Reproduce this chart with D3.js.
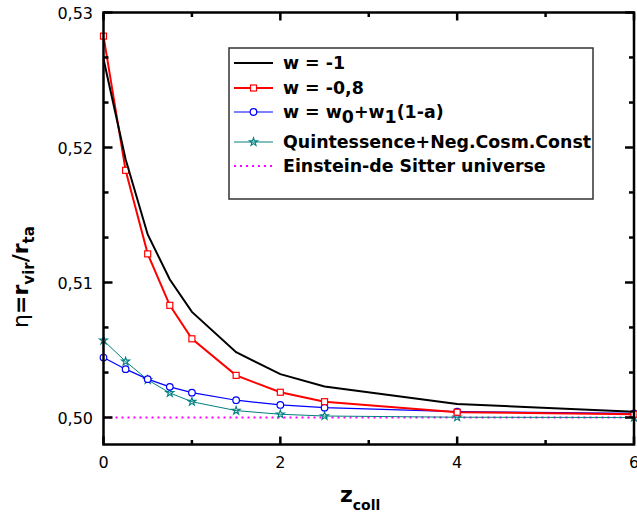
<!DOCTYPE html>
<html><head><meta charset="utf-8">
<script src="https://cdn.jsdelivr.net/npm/d3@7"></script>
<style>body{margin:0;background:#fff}svg{display:block}text{font-family:"DejaVu Sans",Verdana,sans-serif}</style>
</head><body>
<svg id="c" width="637" height="515"></svg>
<script>
const zColl = [0, 0.25, 0.5, 0.75, 1, 1.5, 2, 2.5, 4, 6];
const etaLambda = [0.52656, 0.51913, 0.51356, 0.51022, 0.50782, 0.50484, 0.50321, 0.50229, 0.50100, 0.50043];
const etaW08 = [0.52825, 0.51831, 0.51212, 0.50831, 0.50583, 0.50312, 0.50187, 0.50117, 0.50039, 0.50024];
const etaW0W1 = [0.50444, 0.50358, 0.50284, 0.50227, 0.50184, 0.50128, 0.50093, 0.50073, 0.50043, 0.50031];
const etaQuint = [0.50571, 0.50415, 0.50279, 0.50182, 0.50117, 0.50051, 0.50024, 0.50011, 0.50002, 0.50000];
const edsX = [0, 6];
const edsY = [0.5, 0.5];
const xTicks = [0, 2, 4, 6];
const xMinor = [1, 3, 5];
const yTicks = [0.50, 0.51, 0.52, 0.53];
const yTickLabels = ["0,50", "0,51", "0,52", "0,53"];
const yMinor = [0.50333, 0.50667, 0.51333, 0.51667, 0.52333, 0.52667];
const legendLabels = ["w = -1", "w = -0,8", "w = w0+w1(1-a)", "Quintessence+Neg.Cosm.Const", "Einstein-de Sitter universe"];

const svg = d3.select("#c");
const L = 103.5, R = 634, T = 12.5, B = 444.5;
const x = d3.scaleLinear().domain([0, 6]).range([L, R]);
const y = d3.scaleLinear().domain([0.498, 0.53]).range([B, T]);

const series = [
  {v: etaLambda, color: "#000", w: 2, marker: null},
  {v: etaW08, color: "#ff0000", w: 2, marker: "square"},
  {v: etaW0W1, color: "#0000ff", w: 1.2, marker: "circle"},
  {v: etaQuint, color: "#008080", w: 1, marker: "star"}
];

// EdS dotted
svg.append("line").attr("x1", x(edsX[0])).attr("x2", x(edsX[1])).attr("y1", y(edsY[0])).attr("y2", y(edsY[1]))
  .attr("stroke", "#ff00ff").attr("stroke-width", 2).attr("stroke-dasharray", "2,4");

const line = d3.line().x((d, i) => x(zColl[i])).y(d => y(d));
const starPath = d3.symbol().type(d3.symbolStar).size(20)();
function drawMarker(g, type, cx, cy, color) {
  if (type === "square") g.append("rect").attr("x", cx - 3).attr("y", cy - 3).attr("width", 6).attr("height", 6).attr("fill", "#fff").attr("stroke", color).attr("stroke-width", 1.2);
  else if (type === "circle") g.append("circle").attr("cx", cx).attr("cy", cy).attr("r", 3.3).attr("fill", "#fff").attr("stroke", color).attr("stroke-width", 1.2);
  else if (type === "star") g.append("path").attr("d", starPath).attr("transform", `translate(${cx},${cy})`).attr("fill", "none").attr("stroke", color).attr("stroke-width", 1.1);
}
series.slice().reverse().forEach(s => {
  svg.append("path").datum(s.v).attr("d", line).attr("fill", "none").attr("stroke", s.color).attr("stroke-width", s.w);
  if (s.marker) s.v.forEach((d, i) => drawMarker(svg, s.marker, x(zColl[i]), y(d), s.color));
});

// frame
svg.append("rect").attr("x", L).attr("y", T).attr("width", R - L).attr("height", B - T).attr("fill", "none").attr("stroke", "#000").attr("stroke-width", 2.5);

// ticks
const ax = svg.append("g").attr("stroke", "#000").attr("stroke-width", 2.5);
xTicks.forEach(t => { ax.append("line").attr("x1", x(t)).attr("x2", x(t)).attr("y1", B).attr("y2", B - 8); ax.append("line").attr("x1", x(t)).attr("x2", x(t)).attr("y1", T).attr("y2", T + 8); });
xMinor.forEach(t => { ax.append("line").attr("x1", x(t)).attr("x2", x(t)).attr("y1", B).attr("y2", B - 4.5); ax.append("line").attr("x1", x(t)).attr("x2", x(t)).attr("y1", T).attr("y2", T + 4.5); });
yTicks.forEach(t => { ax.append("line").attr("x1", L).attr("x2", L + 9).attr("y1", y(t)).attr("y2", y(t)); ax.append("line").attr("x1", R).attr("x2", R - 9).attr("y1", y(t)).attr("y2", y(t)); });
yMinor.forEach(t => { ax.append("line").attr("x1", L).attr("x2", L + 5).attr("y1", y(t)).attr("y2", y(t)); ax.append("line").attr("x1", R).attr("x2", R - 5).attr("y1", y(t)).attr("y2", y(t)); });

// tick labels
xTicks.forEach(t => svg.append("text").attr("x", x(t)).attr("y", 468).attr("text-anchor", "middle").attr("font-size", 16).text(t));
yTicks.forEach((t, i) => svg.append("text").attr("x", 93).attr("y", y(t) + 6).attr("text-anchor", "end").attr("font-size", 16).text(yTickLabels[i]));

// axis titles
const xt = svg.append("text").attr("x", 340).attr("y", 502).attr("font-weight", "bold").attr("font-size", 22);
xt.append("tspan").text("z");
xt.append("tspan").attr("font-size", 14).attr("dy", 8).text("coll");

const yt = svg.append("text").attr("transform", "translate(28,277) rotate(-90)").attr("text-anchor", "middle").attr("font-size", 22);
yt.append("tspan").text("η");
yt.append("tspan").attr("font-weight", "bold").text("=r");
yt.append("tspan").attr("font-weight", "bold").attr("font-size", 15).attr("dy", 6).text("vir");
yt.append("tspan").attr("font-weight", "bold").attr("dy", -6).text("/r");
yt.append("tspan").attr("font-weight", "bold").attr("font-size", 15).attr("dy", 6).text("ta");

// legend
const lg = svg.append("g");
lg.append("rect").attr("x", 229).attr("y", 48).attr("width", 364).attr("height", 151).attr("fill", "#fff").attr("stroke", "#333").attr("stroke-width", 1.5);
const rowsY = [63, 88, 112, 142, 166];
const legStyles = series.concat([{color: "#ff00ff", w: 2, marker: null, dash: "2,4"}]);
legStyles.forEach((s, i) => {
  const cy = rowsY[i];
  lg.append("line").attr("x1", 234).attr("x2", 273).attr("y1", cy).attr("y2", cy).attr("stroke", s.color).attr("stroke-width", s.dash ? 2 : s.w).attr("stroke-dasharray", s.dash || null);
  if (s.marker) drawMarker(lg, s.marker, 253.5, cy, s.color);
  const tx = lg.append("text").attr("x", 283).attr("y", cy + 6).attr("font-weight", "bold").attr("font-size", 17.4);
  if (i === 2) {
    tx.append("tspan").text("w = w");
    tx.append("tspan").attr("dy", 5).text("0");
    tx.append("tspan").attr("dy", -5).text("+w");
    tx.append("tspan").attr("dy", 5).text("1");
    tx.append("tspan").attr("dy", -5).text("(1-a)");
  } else tx.text(legendLabels[i]);
});
</script>
</body></html>
